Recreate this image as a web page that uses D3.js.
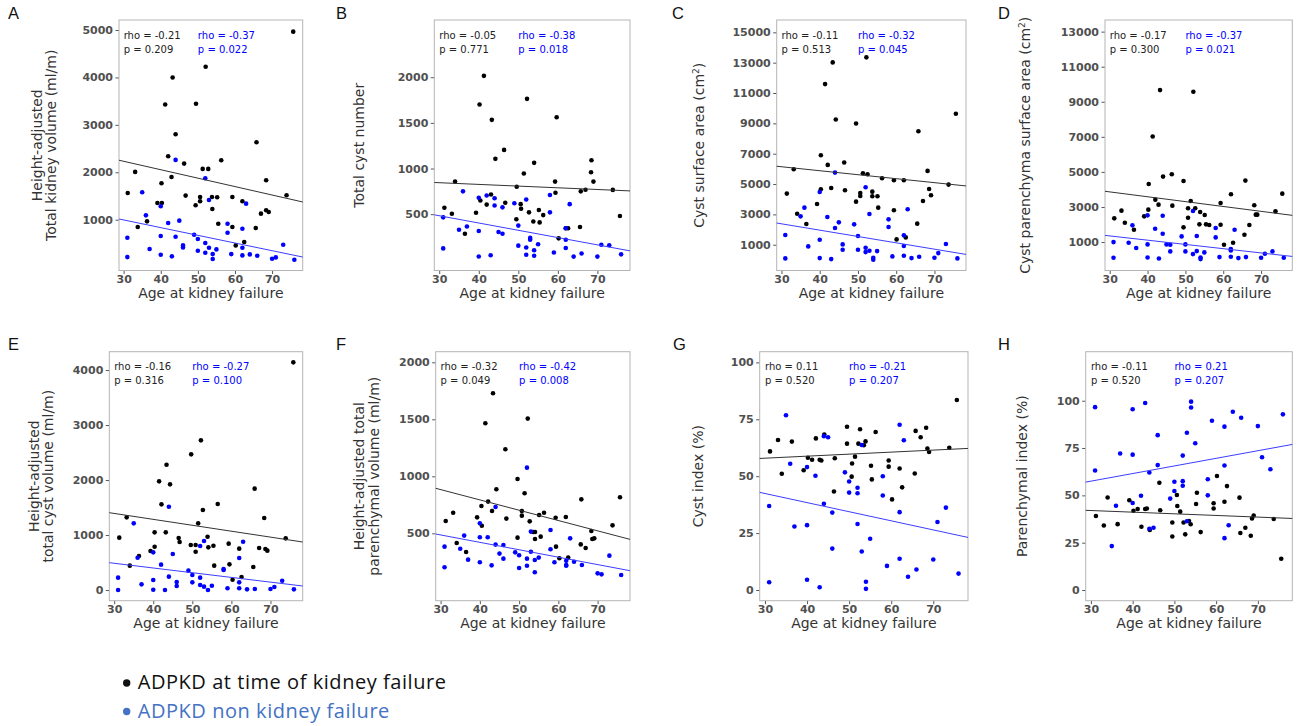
<!DOCTYPE html>
<html>
<head>
<meta charset="utf-8">
<script src="https://cdn.jsdelivr.net/npm/d3@7"></script>
<style>
  body { margin: 0; background: #fff; }
  svg { display: block; }
</style>
</head>
<body>
<div id="chart"></div>
<script>
// Shared axis
const xTicks = [30, 40, 50, 60, 70];
const xDomain = [28.75, 78.25];
const fitX = [28.75, 78.25];

// A - height-adjusted total kidney volume
const aBlack = [[31.1,1564],[33.1,2008],[33.8,845],[36.3,965],[39.1,1353],[40.2,1768],[40.3,1353],[41.2,3430],[42.0,2338],[42.9,1902],[43.2,4000],[44.0,2803],[46.3,2183],[46.7,1508],[49.4,1304],[49.5,3444],[50.6,1480],[50.6,1388],[51.3,2071],[52.1,4225],[52.8,2071],[53.8,1480],[53.9,1227],[55.2,1473],[55.5,916],[56.3,2254],[59.3,1480],[59.3,845],[60.2,458],[62.0,1388],[62.5,529],[65.6,824],[65.8,2634],[67.0,1128],[68.4,1832],[68.4,1198],[69.1,1163],[73.9,1515],[75.7,4965]];
const aBlue = [[31,620],[31,212],[35,1578],[36,1092],[37,381],[40,1283],[40,655],[40,261],[42,931],[43,227],[44,2261],[44,641],[45,980],[46,458],[46,416],[49,683],[50,592],[50,346],[52,1874],[52,508],[52,304],[53,1416],[53,409],[54,275],[54,170],[55,374],[58,916],[58,725],[59,275],[62,810],[62,409],[62,247],[63,1339],[64,268],[66,240],[70,177],[71,205],[73,473],[76,156]];
const aFitBlack = [2254, 1374];
const aFitBlue = [1015, 213];
const aStats = ["rho = -0.21", "p = 0.209", "rho = -0.37", "p = 0.022"];
const aTicks = [1000, 2000, 3000, 4000, 5000];

// B - total cyst number
const bBlack = [[31.3,570],[33.2,505],[34.0,857],[36.5,285],[39.3,515],[40.2,1701],[40.4,650],[41.3,2015],[42.0,605],[43.1,715],[43.3,1533],[44.2,1106],[46.4,1204],[46.7,625],[49.5,445],[49.6,800],[50.6,610],[50.7,560],[51.4,945],[52.2,1763],[52.7,520],[53.8,420],[54.0,1062],[55.2,545],[55.4,410],[56.3,490],[59.3,857],[59.4,735],[59.7,1562],[60.2,235],[62.0,345],[62.6,345],[65.6,360],[65.8,750],[67.0,767],[68.4,960],[68.5,1091],[69.0,857],[73.9,766],[75.7,480]];
const bBlue = [[31,465],[31,125],[35,330],[36,750],[37,365],[40,680],[40,315],[40,36],[42,705],[43,50],[44,675],[44,595],[45,305],[46,575],[46,285],[49,620],[50,375],[50,155],[52,660],[52,135],[52,55],[53,240],[53,220],[54,105],[54,45],[55,170],[58,710],[58,520],[59,80],[62,345],[62,220],[62,130],[63,610],[64,35],[66,70],[70,35],[71,165],[73,160],[76,60]];
const bFitBlack = [847, 755];
const bFitBlue = [493, 98];
const bStats = ["rho = -0.05", "p = 0.771", "rho = -0.38", "p = 0.018"];
const bTicks = [500, 1000, 1500, 2000];

// C - cyst surface area
const cBlack = [[31.4,4370],[33.2,5976],[34.1,3048],[36.5,2367],[39.3,3687],[40.3,6900],[40.3,4655],[41.4,11588],[42.1,6262],[43.0,4743],[43.4,13019],[44.2,9255],[46.4,6416],[46.6,4589],[49.5,8991],[49.5,3841],[50.6,4413],[50.6,4215],[51.3,5712],[52.2,13349],[52.5,5646],[53.75,4501],[53.75,4193],[55.1,4193],[55.3,3445],[56.3,5382],[59.4,5250],[59.4,3269],[60.1,1354],[62.0,5250],[62.5,1486],[65.5,2389],[65.8,8485],[67.0,3885],[68.2,5866],[68.6,4677],[69.1,4259],[73.7,4963],[75.6,9629]];
const cBlue = [[31,1640],[31,99],[35,2872],[36,3445],[37,891],[40,4479],[40,1332],[40,121],[42,2829],[43,55],[44,5756],[44,2102],[45,2476],[46,1024],[46,671],[49,2344],[50,1574],[50,671],[52,4787],[52,803],[52,517],[53,3027],[53,605],[54,143],[54,11],[55,583],[58,2675],[58,2168],[59,231],[62,1618],[62,913],[62,275],[63,3335],[64,121],[66,209],[70,143],[71,451],[73,1046],[76,99]];
const cFitBlack = [6174, 4875];
const cFitBlue = [2432, 363];
const cStats = ["rho = -0.11", "p = 0.513", "rho = -0.32", "p = 0.045"];
const cTicks = [1000, 3000, 5000, 7000, 9000, 11000, 13000, 15000];

// D - cyst parenchyma surface area
const dBlack = [[31.2,2351],[33.1,2789],[34.0,2103],[36.4,1703],[39.1,2465],[40.2,2846],[40.3,4313],[41.35,7018],[42.05,3418],[42.9,3132],[43.3,9666],[44.1,4732],[46.4,4866],[46.55,3075],[49.5,4485],[49.5,1837],[50.7,2923],[50.7,2389],[51.4,3342],[52.1,9571],[52.6,2923],[53.7,2008],[53.9,2713],[55.1,2541],[55.45,2008],[56.3,1970],[59.3,3227],[59.3,1989],[60.2,846],[62.05,3723],[62.6,960],[65.6,1418],[65.85,4504],[66.9,1970],[68.2,3094],[68.6,2561],[69.0,2561],[73.8,2751],[75.6,3761]];
const dBlue = [[31,998],[31,103],[35,960],[36,1951],[37,656],[40,2522],[40,865],[40,122],[42,1760],[43,65],[44,2503],[44,1475],[45,865],[46,846],[46,465],[49,1322],[50,865],[50,465],[52,2770],[52,313],[53,1341],[53,484],[54,122],[54,27],[55,408],[58,1799],[58,1265],[59,141],[62,598],[62,522],[62,160],[63,1703],[64,84],[66,141],[70,103],[71,332],[73,465],[76,103]];
const dFitBlack = [3894, 2522];
const dFitBlue = [1380, 179];
const dStats = ["rho = -0.17", "p = 0.300", "rho = -0.37", "p = 0.021"];
const dTicks = [1000, 3000, 5000, 7000, 9000, 11000, 13000];

// E - height-adjusted total cyst volume
const eBlack = [[31.3,952],[33.2,1321],[34.0,443],[36.35,619],[39.3,710],[40.35,1049],[40.35,788],[41.5,1976],[42.1,1558],[43.2,1049],[43.4,2279],[44.3,1921],[46.5,946],[46.75,873],[49.6,818],[49.7,2467],[50.85,818],[50.85,697],[51.5,1212],[52.2,2721],[52.7,1455],[53.9,970],[54.1,776],[55.4,806],[55.6,443],[56.5,1564],[59.3,843],[59.5,467],[60.3,188],[62.0,752],[62.6,237],[65.6,418],[65.95,1843],[67.1,764],[68.4,1309],[68.7,746],[69.2,716],[73.9,940],[75.85,4139]];
const eBlue = [[31,225],[31,0],[35,1212],[36,588],[37,103],[40,685],[40,182],[40,6],[42,461],[43,0],[44,1515],[44,243],[45,655],[46,146],[46,73],[49,352],[50,273],[50,140],[52,800],[52,225],[52,91],[53,891],[53,61],[54,0],[55,79],[58,382],[58,364],[59,31],[62,582],[62,140],[62,31],[63,879],[64,12],[66,18],[70,18],[71,55],[73,170],[76,12]];
const eFitBlack = [1406, 873];
const eFitBlue = [497, 73];
const eStats = ["rho = -0.16", "p = 0.316", "rho = -0.27", "p = 0.100"];
const eTicks = [0, 1000, 2000, 3000, 4000];

// F - height-adjusted total parenchymal volume
const fBlack = [[31.3,608],[33.2,681],[34.1,415],[36.5,336],[39.3,640],[40.4,740],[40.5,567],[41.4,1465],[42.1,778],[43.1,696],[43.35,1728],[44.2,886],[46.5,1237],[46.75,629],[49.6,977],[49.6,462],[50.7,696],[50.7,655],[51.4,851],[52.2,1506],[52.7,605],[53.6,512],[54.05,512],[54.05,450],[55.1,661],[55.5,471],[56.35,681],[59.3,637],[59.4,383],[60.25,281],[61.9,643],[62.5,287],[65.7,403],[65.85,798],[66.95,371],[68.4,520],[68.65,450],[69.15,456],[73.8,570],[75.7,816]];
const fBlue = [[31,383],[31,202],[35,365],[36,480],[37,269],[40,588],[40,465],[40,246],[42,465],[43,219],[44,731],[44,401],[45,322],[46,398],[46,278],[49,333],[50,307],[50,196],[52,1076],[52,278],[52,216],[53,515],[53,339],[54,266],[54,158],[55,287],[58,529],[58,360],[59,246],[62,260],[62,222],[62,216],[63,456],[64,251],[66,222],[70,149],[71,140],[73,304],[76,134]];
const fFitBlack = [895, 447];
const fFitBlue = [494, 172];
const fStats = ["rho = -0.32", "p = 0.049", "rho = -0.42", "p = 0.008"];
const fTicks = [500, 1000, 1500, 2000];

// G - cyst index
const gBlack = [[31.2,60.9],[33.1,65.9],[34.0,51.1],[36.4,65.2],[39.2,52.6],[40.2,58.1],[41.2,57.2],[42.1,66.6],[43.0,57.2],[43.4,56.9],[44.1,68.3],[46.4,43.3],[46.6,57.9],[49.5,71.7],[49.5,64.3],[50.6,49.8],[50.7,55.6],[51.4,58.6],[52.2,64.3],[52.6,70.6],[53.5,63.6],[53.9,65.3],[55.2,54.6],[55.4,48.6],[56.3,69.4],[59.4,56.9],[59.4,54.2],[60.2,39.8],[62.0,53.4],[62.6,45.1],[65.6,51.2],[65.8,69.9],[67.0,67.1],[68.3,71.3],[68.6,62.2],[69.0,60.6],[73.8,62.5],[75.6,83.5]];
const gBlue = [[31,36.9],[31,3.4],[35,76.8],[36,55.5],[37,27.9],[40,54.0],[40,28.5],[40,4.5],[42,50.2],[43,1.2],[44,67.6],[44,37.9],[45,67.1],[46,34.0],[46,18.2],[49,51.7],[50,47.7],[50,42.8],[52,44.9],[52,42.5],[52,29.0],[53,63.7],[53,16.9],[54,3.6],[54,0.5],[55,22.5],[58,50.0],[58,41.5],[59,10.6],[62,72.6],[62,34.2],[62,13.7],[63,65.8],[64,5.8],[66,9.0],[70,13.4],[71,29.9],[73,36.2],[76,7.2]];
const gFitBlack = [57.8, 62.2];
const gFitBlue = [42.9, 23.1];
const gStats = ["rho = 0.11", "p = 0.520", "rho = -0.21", "p = 0.207"];
const gTicks = [0, 25, 50, 75, 100];

// H - parenchymal index
const hBlack = [[31.2,39.1],[33.1,34.1],[34.0,48.9],[36.4,34.8],[39.2,47.4],[40.2,41.9],[41.2,42.8],[42.1,33.4],[43.0,42.8],[43.4,43.1],[44.1,31.7],[46.4,56.7],[46.6,42.1],[49.5,28.3],[49.5,35.7],[50.6,50.2],[50.7,44.4],[51.4,41.4],[52.2,35.7],[52.6,29.4],[53.5,36.4],[53.9,34.7],[55.2,45.4],[55.4,51.4],[56.3,30.6],[59.4,43.1],[59.4,45.8],[60.2,60.2],[62.0,46.6],[62.6,54.9],[65.6,48.8],[65.8,30.1],[67.0,32.9],[68.3,28.7],[68.6,37.8],[69.0,39.4],[73.8,37.5],[75.6,16.5]];
const hBlue = [[31,63.1],[31,96.6],[35,23.2],[36,44.5],[37,72.1],[40,46.0],[40,71.5],[40,95.5],[42,49.8],[43,98.8],[44,32.4],[44,62.1],[45,32.9],[46,66.0],[46,81.8],[49,48.3],[50,52.3],[50,57.2],[52,55.1],[52,57.5],[52,71.0],[53,36.3],[53,83.1],[54,96.4],[54,99.5],[55,77.5],[58,50.0],[58,58.5],[59,89.4],[62,27.4],[62,65.8],[62,86.3],[63,34.2],[64,94.2],[66,91.0],[70,86.6],[71,70.1],[73,63.8],[76,92.8]];
const hFitBlack = [42.1, 37.8];
const hFitBlue = [57.0, 76.9];
const hStats = ["rho = -0.11", "p = 0.520", "rho = 0.21", "p = 0.207"];
const hTicks = [0, 25, 50, 75, 100];

const legendLabels = ["ADPKD at time of kidney failure", "ADPKD non kidney failure"];

// Layout
const width = 1298, height = 726;
const svg = d3.select("#chart")
  .append("svg")
  .attr("width", width)
  .attr("height", height);

const top1 = 20, bot1 = 270.5, top2 = 351.7, bot2 = 600.7;

const panels = [
  { letter: "A", lx: 8, ly: 19, box: [119, top1, 302.7, bot1], y: [-71, 5211], ticks: aTicks,
    label: [[{ t: "Height-adjusted" }], [{ t: "Total kidney volume (ml/m)" }]], labelX: [37, 51],
    black: aBlack, blue: aBlue, fitBlack: aFitBlack, fitBlue: aFitBlue, stats: aStats },
  { letter: "B", lx: 336, ly: 19, box: [434.3, top1, 630, bot1], y: [-117, 2627], ticks: bTicks,
    label: [[{ t: "Total cyst number" }]], labelX: [359],
    black: bBlack, blue: bBlue, fitBlack: bFitBlack, fitBlue: bFitBlue, stats: bStats },
  { letter: "C", lx: 672, ly: 19, box: [776.7, top1, 966, bot1], y: [-697, 15812], ticks: cTicks,
    label: [[{ t: "Cyst surface area (cm" }, { t: "2", sup: true }, { t: ")" }]], labelX: [699],
    black: cBlack, blue: cBlue, fitBlack: cFitBlack, fitBlue: cFitBlue, stats: cStats },
  { letter: "D", lx: 998, ly: 19, box: [1105, top1, 1292.3, bot1], y: [-623, 13663], ticks: dTicks,
    label: [[{ t: "Cyst parenchyma surface area (cm" }, { t: "2", sup: true }, { t: ")" }]], labelX: [1025],
    black: dBlack, blue: dBlue, fitBlack: dFitBlack, fitBlue: dFitBlue, stats: dStats },
  { letter: "E", lx: 8, ly: 350, box: [109.3, top2, 302.7, bot2], y: [-194, 4333], ticks: eTicks,
    label: [[{ t: "Height-adjusted" }], [{ t: "total cyst volume (ml/m)" }]], labelX: [34, 48],
    black: eBlack, blue: eBlue, fitBlack: eFitBlack, fitBlue: eFitBlue, stats: eStats },
  { letter: "F", lx: 336, ly: 350, box: [435.7, top2, 630, bot2], y: [-91, 2093], ticks: fTicks,
    label: [[{ t: "Height-adjusted total" }], [{ t: "parenchymal volume (ml/m)" }]], labelX: [359, 374],
    black: fBlack, blue: fBlue, fitBlack: fFitBlack, fitBlue: fFitBlue, stats: fStats },
  { letter: "G", lx: 673, ly: 350, box: [759.7, top2, 968, bot2], y: [-4.7, 104.7], ticks: gTicks,
    label: [[{ t: "Cyst index (%)" }]], labelX: [698],
    black: gBlack, blue: gBlue, fitBlack: gFitBlack, fitBlue: gFitBlue, stats: gStats },
  { letter: "H", lx: 998, ly: 350, box: [1085.7, top2, 1292.3, bot2], y: [-5.65, 125.9], ticks: hTicks,
    label: [[{ t: "Parenchymal index (%)" }]], labelX: [1022],
    black: hBlack, blue: hBlue, fitBlack: hFitBlack, fitBlue: hFitBlue, stats: hStats }
];

const tickFont = "DejaVu Sans";
const blue = "#0000ff";

panels.forEach(p => {
  const [x0, y0, x1, y1] = p.box;
  const x = d3.scaleLinear().domain(xDomain).range([x0, x1]);
  const y = d3.scaleLinear().domain(p.y).range([y1, y0]);
  const g = svg.append("g");

  // panel letter
  g.append("text")
    .attr("x", p.lx).attr("y", p.ly)
    .attr("font-family", "Liberation Sans, Arial, sans-serif")
    .attr("font-size", 16.5)
    .attr("fill", "#111")
    .text(p.letter);

  // axes
  const yAxis = g.append("g")
    .attr("transform", `translate(${x0},0)`)
    .call(d3.axisLeft(y).tickValues(p.ticks).tickSize(3.5).tickPadding(2.5).tickFormat(d3.format("d")));
  const xAxis = g.append("g")
    .attr("transform", `translate(0,${y1})`)
    .call(d3.axisBottom(x).tickValues(xTicks).tickSize(3.5).tickPadding(1).tickFormat(d3.format("d")));
  [yAxis, xAxis].forEach(a => {
    a.select(".domain").remove();
    a.selectAll(".tick line").attr("stroke", "#555");
    a.selectAll(".tick text")
      .attr("font-family", tickFont)
      .attr("font-weight", "bold")
      .attr("font-size", 11)
      .attr("fill", "#505050");
  });

  // frame
  g.append("rect")
    .attr("x", x0).attr("y", y0)
    .attr("width", x1 - x0).attr("height", y1 - y0)
    .attr("fill", "none")
    .attr("stroke", "#b5b5b5")
    .attr("stroke-width", 1);

  // points
  g.append("g").selectAll("circle")
    .data(p.black)
    .join("circle")
    .attr("cx", d => x(d[0])).attr("cy", d => y(d[1]))
    .attr("r", 2.3).attr("fill", "#000");
  g.append("g").selectAll("circle")
    .data(p.blue)
    .join("circle")
    .attr("cx", d => x(d[0])).attr("cy", d => y(d[1]))
    .attr("r", 2.3).attr("fill", blue);

  // regression lines
  const line = d3.line().x(d => x(d[0])).y(d => y(d[1]));
  g.append("path")
    .attr("d", line(fitX.map((v, i) => [v, p.fitBlack[i]])))
    .attr("fill", "none").attr("stroke", "#333").attr("stroke-width", 1);
  g.append("path")
    .attr("d", line(fitX.map((v, i) => [v, p.fitBlue[i]])))
    .attr("fill", "none").attr("stroke", "#3d3dff").attr("stroke-width", 1);

  // stats text
  const statPos = [[30, 18.5, "#222"], [30, 32.5, "#222"], [50, 18.5, blue], [50, 32.5, blue]];
  p.stats.forEach((s, i) => {
    g.append("text")
      .attr("x", x(statPos[i][0]))
      .attr("y", y0 + statPos[i][1])
      .attr("font-family", tickFont)
      .attr("font-size", 10)
      .attr("fill", statPos[i][2])
      .text(s);
  });

  // x label
  g.append("text")
    .attr("x", (x0 + x1) / 2)
    .attr("y", y1 + 27.5)
    .attr("text-anchor", "middle")
    .attr("font-family", tickFont)
    .attr("font-size", 14)
    .attr("fill", "#333")
    .text("Age at kidney failure");

  // y label
  const cy = (y0 + y1) / 2;
  p.label.forEach((segs, i) => {
    const lx = p.labelX[i];
    const t = g.append("text")
      .attr("x", lx).attr("y", cy)
      .attr("dy", "0.35em")
      .attr("transform", `rotate(-90,${lx},${cy})`)
      .attr("text-anchor", "middle")
      .attr("font-family", tickFont)
      .attr("font-size", 14)
      .attr("fill", "#333");
    segs.forEach(s => {
      const ts = t.append("tspan").text(s.t);
      if (s.sup) ts.attr("font-size", 9).attr("baseline-shift", "super");
    });
  });
});

// legend
const legendColors = ["#111", "#4472c4"];
legendLabels.forEach((lab, i) => {
  const ly = 683 + i * 28.5;
  svg.append("circle")
    .attr("cx", 126.7).attr("cy", ly)
    .attr("r", 3.7)
    .attr("fill", legendColors[i]);
  svg.append("text")
    .attr("x", 137.7).attr("y", ly + 6.3)
    .attr("font-family", "Open Sans, sans-serif")
    .attr("font-size", 20)
    .attr("letter-spacing", 0.55)
    .attr("fill", legendColors[i])
    .text(lab);
});
</script>
</body>
</html>
